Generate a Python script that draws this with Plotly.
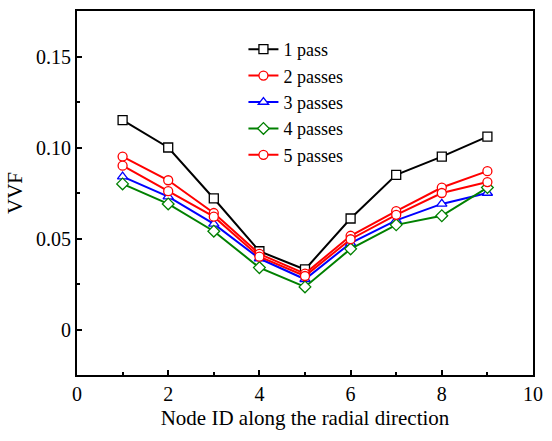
import plotly.graph_objects as go

node_id = [1, 2, 3, 4, 5, 6, 7, 8, 9]
pass1 = [0.115, 0.100, 0.072, 0.043, 0.033, 0.061, 0.085, 0.095, 0.106]
pass2 = [0.095, 0.082, 0.064, 0.0415, 0.0307, 0.0515, 0.065, 0.078, 0.087]
pass3 = [0.084, 0.073, 0.058, 0.039, 0.0276, 0.0475, 0.060, 0.069, 0.075]
pass4 = [0.080, 0.069, 0.054, 0.034, 0.0234, 0.0443, 0.0575, 0.0625, 0.078]
pass5 = [0.090, 0.076, 0.062, 0.040, 0.0294, 0.0496, 0.063, 0.075, 0.081]

series_names = ["1 pass", "2 passes", "3 passes", "4 passes", "5 passes"]
series_values = [pass1, pass2, pass3, pass4, pass5]
colors = ["#000000", "#ff0000", "#0000ff", "#008000", "#ff0000"]
symbols = ["square", "circle", "triangle-up", "diamond", "circle"]

x_tickvals = [0, 2, 4, 6, 8, 10]
x_ticktext = ["0", "2", "4", "6", "8", "10"]
y_tickvals = [0, 0.05, 0.10, 0.15]
y_ticktext = ["0", "0.05", "0.10", "0.15"]

FONT = "Liberation Serif"

fig = go.Figure()
for name, vals, c, s in zip(series_names, series_values, colors, symbols):
    fig.add_trace(go.Scatter(
        x=node_id, y=vals, name=name, mode="lines+markers",
        line=dict(color=c, width=2),
        marker=dict(symbol=s, size=9, color="white", line=dict(color=c, width=1.3)),
    ))

fig.update_layout(
    width=552, height=441,
    margin=dict(l=77, r=9, t=11, b=66),
    paper_bgcolor="white", plot_bgcolor="white",
    font=dict(family=FONT, size=19, color="black"),
    showlegend=True,
    legend=dict(x=0.365, y=0.945, xanchor="left", yanchor="top",
                bgcolor="rgba(0,0,0,0)", font=dict(family=FONT, size=18, color="black"),
                tracegroupgap=0, itemwidth=30),
    xaxis=dict(range=[0, 10], tickvals=x_tickvals, ticktext=x_ticktext,
               ticks="inside", ticklen=5, tickwidth=1.5, tickcolor="black",
               minor=dict(dtick=1, ticks="inside", ticklen=3, tickwidth=1.5, tickcolor="black"),
               showline=True, linecolor="black", linewidth=1.8, mirror=True,
               showgrid=False, zeroline=False,
               title=dict(text="Node ID along the radial direction", standoff=6,
                          font=dict(family=FONT, size=21, color="black")),
               tickfont=dict(family=FONT, size=20, color="black")),
    yaxis=dict(range=[-0.025, 0.175], tickvals=y_tickvals, ticktext=y_ticktext,
               ticks="inside", ticklen=5, tickwidth=1.5, tickcolor="black",
               minor=dict(tick0=0, dtick=0.025, ticks="inside", ticklen=3, tickwidth=1.5, tickcolor="black"),
               showline=True, linecolor="black", linewidth=1.8, mirror=True,
               showgrid=False, zeroline=False,
               title=dict(text="VVF", standoff=8,
                          font=dict(family=FONT, size=21, color="black")),
               tickfont=dict(family=FONT, size=20, color="black")),
)

fig.write_html("out.html")
